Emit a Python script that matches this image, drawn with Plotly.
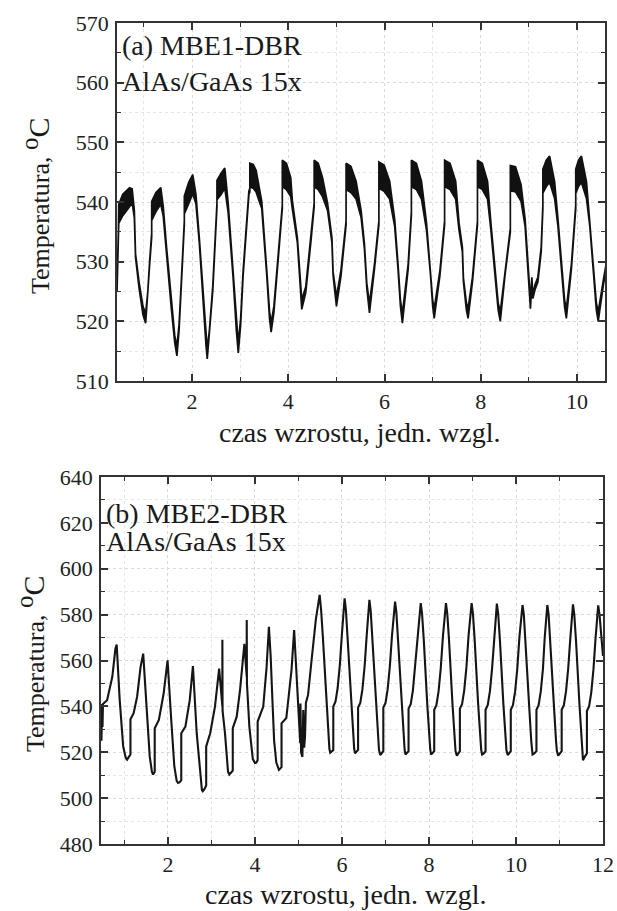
import plotly.graph_objects as go

# ---------------- panel (a) MBE1-DBR : centreline + noise half-amplitude ----------------
top_x = [0.44, 0.462, 0.47, 0.476, 0.56, 0.70, 0.755, 0.80, 0.825, 0.90, 0.98, 1.035, 1.08, 1.12, 1.161,
         1.161, 1.25, 1.35, 1.40, 1.47, 1.57, 1.64, 1.685, 1.73, 1.77, 1.839,
         1.839, 1.93, 2.014, 2.08, 2.15, 2.24, 2.29, 2.315, 2.36, 2.43, 2.517,
         2.517, 2.60, 2.68, 2.75, 2.85, 2.92, 2.96, 3.01, 3.06, 3.18, 3.20,
         3.20, 3.27, 3.33, 3.40, 3.448, 3.552, 3.61, 3.643, 3.70, 3.762, 3.875,
         3.875, 3.96, 4.05, 4.084, 4.188, 4.237, 4.279, 4.362, 4.467, 4.537,
         4.537, 4.62, 4.71, 4.815, 4.906, 4.93, 5.0, 5.094, 5.20,
         5.20, 5.30, 5.408, 5.512, 5.582, 5.63, 5.686, 5.79, 5.882,
         5.882, 5.99, 6.105, 6.21, 6.279, 6.33, 6.37, 6.49, 6.557,
         6.557, 6.66, 6.767, 6.871, 6.955, 7.0, 7.031, 7.15, 7.247,
         7.247, 7.36, 7.477, 7.547, 7.617, 7.638, 7.70, 7.735, 7.826, 7.93,
         7.93, 8.03, 8.139, 8.209, 8.30, 8.36, 8.404, 8.502, 8.613,
         8.613, 8.72, 8.836, 8.92, 8.99, 9.031, 9.06, 9.08, 9.129, 9.185, 9.254, 9.289,
         9.289, 9.36, 9.429, 9.533, 9.603, 9.686, 9.74, 9.777, 9.882, 9.972,
         9.972, 10.03, 10.09, 10.195, 10.265, 10.334, 10.40, 10.439, 10.544, 10.613]
top_y = [525.5, 531, 535, 538, 539.5, 540.8, 541, 538, 531, 526, 521.8, 520.5, 524.5, 530, 534.5,
         538.5, 540, 541, 538.5, 532, 522.5, 517, 515, 519, 525.3, 536.5,
         539.5, 541.5, 543, 540.5, 533.6, 522.5, 516.5, 514.5, 518, 525.5, 539.5,
         542, 543, 544, 539, 528, 519, 515.5, 520, 528, 541.5, 542,
         544.5, 544.3, 543.5, 541, 539.5, 528.1, 521, 519, 522, 528.1, 539.2,
         544.8, 544.3, 542.5, 539.5, 533.6, 528, 522.8, 525.3, 533.6, 539.5,
         544.8, 544.3, 542.5, 539.2, 533.6, 528, 523.3, 528.1, 536.5,
         544.3, 543.8, 542, 538, 532.5, 526, 522.2, 529.2, 536.5,
         544.5, 544, 542, 536.5, 529.2, 523, 520.5, 529.2, 538.1,
         544.8, 544.3, 542, 535.9, 528.1, 523, 521.3, 528.1, 536.5,
         544.8, 544.3, 542, 535.9, 532, 527, 522.5, 521.3, 527, 536.5,
         544.8, 544.3, 542, 535.9, 528.1, 522.5, 520.8, 528.1, 535.3,
         544, 543.8, 541.5, 536.5, 528.1, 522.8, 527, 524.2, 525.8, 527, 532, 539.2,
         543.5, 544.8, 545.5, 542, 536.5, 528.1, 523, 521.3, 529.2, 539.2,
         543.5, 544.8, 545.5, 542, 536.5, 529.2, 522.5, 520.8, 526.4, 529.7]
top_noise = [0.6, 0.4, 0.3, 1.6, 1.8, 1.6, 1.2, 0.6, 0.3, 0.5, 0.7, 0.8, 0.5, 0.3, 0.3,
             1.6, 1.6, 1.4, 0.8, 0.4, 0.4, 0.6, 0.8, 0.5, 0.4, 0.3,
             1.5, 1.8, 1.6, 0.8, 0.4, 0.4, 0.6, 0.8, 0.5, 0.4, 0.3,
             1.6, 1.8, 1.7, 0.8, 0.4, 0.5, 0.8, 0.5, 0.4, 0.3, 0.3,
             2.0, 2.0, 1.8, 1.0, 0.6, 0.4, 0.6, 0.8, 0.5, 0.4, 0.3,
             2.2, 2.2, 1.6, 0.7, 0.4, 0.3, 0.8, 0.5, 0.4, 0.3,
             2.2, 2.2, 1.6, 0.6, 0.4, 0.3, 0.8, 0.5, 0.3,
             2.2, 2.2, 1.5, 0.6, 0.4, 0.4, 0.8, 0.4, 0.3,
             2.2, 2.2, 1.5, 0.6, 0.4, 0.5, 0.8, 0.4, 0.3,
             2.2, 2.2, 1.5, 0.6, 0.4, 0.5, 0.8, 0.4, 0.3,
             2.2, 2.2, 1.5, 0.6, 0.4, 0.3, 0.6, 0.8, 0.4, 0.3,
             2.2, 2.2, 1.5, 0.6, 0.4, 0.6, 0.8, 0.4, 0.3,
             2.1, 2.1, 1.4, 0.6, 0.4, 0.7, 0.4, 0.4, 0.4, 0.4, 0.4, 0.3,
             2.0, 2.2, 2.2, 1.4, 0.6, 0.4, 0.6, 0.8, 0.4, 0.3,
             2.0, 2.2, 2.2, 1.4, 0.6, 0.4, 0.6, 0.8, 0.4, 0.4]

# ---------------- panel (b) MBE2-DBR ----------------
bot_x = [0.47, 0.485, 0.495, 0.505, 0.60, 0.72, 0.79, 0.82, 0.89, 0.97, 1.03, 1.06, 1.10, 1.137,
         1.137, 1.21, 1.29, 1.37, 1.43, 1.50, 1.58, 1.63, 1.656, 1.68, 1.695,
         1.695, 1.79, 1.90, 1.99, 2.07, 2.145, 2.20, 2.23, 2.27, 2.305,
         2.305, 2.40, 2.50, 2.573, 2.66, 2.74, 2.78, 2.80, 2.84, 2.878,
         2.878, 2.97, 3.08, 3.176, 3.22, 3.25, 3.25, 3.255, 3.31, 3.38, 3.41, 3.45, 3.489,
         3.489, 3.58, 3.656, 3.756, 3.79, 3.81, 3.81, 3.815, 3.87, 3.95, 4.0, 4.03, 4.061,
         4.061, 4.19, 4.267, 4.32, 4.36, 4.40, 4.44, 4.49, 4.55, 4.61,
         4.61, 4.72, 4.84, 4.90, 4.99, 5.04, 5.045, 5.06, 5.09, 5.11, 5.13, 5.15, 5.17, 5.22, 5.30, 5.40, 5.486,
         5.52, 5.56, 5.64, 5.69, 5.71, 5.73, 5.76, 5.80, 5.80, 5.85, 5.90, 5.95, 6.00, 6.03, 6.06,
         6.09, 6.13, 6.21, 6.26, 6.28, 6.30, 6.33, 6.37, 6.37, 6.42, 6.47, 6.52, 6.57, 6.60, 6.63,
         6.66, 6.70, 6.78, 6.83, 6.85, 6.88, 6.91, 6.95, 6.95, 7.00, 7.05, 7.10, 7.15, 7.19, 7.22,
         7.25, 7.29, 7.37, 7.42, 7.44, 7.46, 7.49, 7.53, 7.53, 7.58, 7.63, 7.68, 7.74, 7.78, 7.81,
         7.84, 7.88, 7.96, 8.01, 8.03, 8.05, 8.08, 8.12, 8.12, 8.17, 8.22, 8.27, 8.32, 8.36, 8.39,
         8.42, 8.46, 8.54, 8.59, 8.61, 8.64, 8.67, 8.71, 8.71, 8.76, 8.81, 8.86, 8.91, 8.95, 8.98,
         9.01, 9.05, 9.13, 9.18, 9.20, 9.22, 9.26, 9.30, 9.30, 9.35, 9.40, 9.45, 9.50, 9.53, 9.56,
         9.59, 9.63, 9.71, 9.76, 9.78, 9.81, 9.84, 9.88, 9.88, 9.93, 9.98, 10.03, 10.08, 10.12, 10.15,
         10.18, 10.22, 10.30, 10.35, 10.36, 10.38, 10.42, 10.47, 10.47, 10.52, 10.57, 10.62, 10.66, 10.69, 10.72,
         10.75, 10.79, 10.87, 10.92, 10.94, 10.97, 11.01, 11.05, 11.05, 11.10, 11.15, 11.20, 11.25, 11.28, 11.31,
         11.34, 11.38, 11.46, 11.51, 11.52, 11.54, 11.58, 11.63, 11.63, 11.68, 11.73, 11.78, 11.83, 11.86, 11.89,
         11.92, 11.96, 12.0]
bot_y = [525, 541, 531, 541, 542.7, 552.9, 565, 567, 542.7, 522.5, 517.5, 516.8, 518, 519,
         534.4, 537, 544.2, 557.2, 563, 542.7, 518.2, 511.5, 510.3, 511, 511.5,
         530.5, 534.1, 545.6, 560.1, 535.5, 513.9, 507.5, 506.6, 507, 507.8,
         528.3, 531.2, 542.7, 557.6, 528.3, 509.5, 503.5, 503, 504, 505.5,
         522.5, 528.3, 539.9, 556.5, 545, 540, 569, 538, 528.3, 511.5, 510.3, 511, 512,
         530.5, 535.5, 547.1, 567.3, 558, 552.9, 577.7, 550, 531.2, 517, 515.3, 515.5, 516.5,
         533.4, 539.9, 557.2, 574.7, 562, 543, 525, 515.5, 512.3, 513.5,
         532.6, 534.9, 555.9, 573.3, 542.8, 524, 541.3, 520, 518, 538.4, 522, 526.8, 541.5, 545, 560, 578, 588.6,
         582, 570.4, 541.5, 526, 521.5, 519.8, 520.2, 521, 539.9, 542, 548, 558, 572, 581, 587.1,
         582, 570, 541, 526, 521.5, 519.5, 520, 521, 539.5, 541.5, 547.5, 557.5, 571.5, 580.5, 586.4,
         581.5, 569.5, 541, 525.5, 521, 518.8, 519.5, 520.5, 539.5, 541.5, 547.5, 557.5, 571, 580, 585.7,
         581, 569, 541, 525.5, 521, 519, 519.5, 520.5, 539, 541, 547, 557, 571, 579.5, 585,
         580.5, 569, 541, 525.5, 521, 519, 519.5, 520.5, 538.5, 540.5, 546.5, 556.5, 570.5, 579.5, 585,
         580.5, 569, 541, 525, 520.5, 518.5, 519.5, 520.5, 539, 541, 547, 557, 571, 579.5, 585,
         580.5, 569, 541, 525, 521, 519, 519.5, 520.5, 538.5, 540.5, 546.5, 556.5, 570.5, 579, 584.8,
         580.5, 569, 541, 525, 521, 518.8, 519.5, 520.5, 538.5, 540.5, 546.5, 556.5, 570.5, 579, 584.2,
         580, 568.5, 541, 525, 521, 519, 519.5, 520.5, 538.5, 540.5, 546.5, 556.5, 570, 578.5, 584.2,
         580, 568.5, 541, 525, 520.5, 518.5, 519.5, 520.5, 538.5, 540.5, 546.5, 556.5, 570, 578.5, 584.5,
         580, 568.5, 540.5, 523.5, 519, 516.5, 518, 519.5, 538, 540, 546, 556, 570, 578.5, 584,
         580, 570, 562]

label_a = ["(a) MBE1-DBR", "AlAs/GaAs 15x"]
label_b = ["(b) MBE2-DBR", "AlAs/GaAs 15x"]
x_title = "czas wzrostu, jedn. wzgl."
y_title = ("Temperatura, <sup><span style='font-size:25px'>o</span></sup>"
           "<span style='font-size:30px'>C</span>")

W, H = 617, 911
FONT = "Liberation Serif, Times New Roman, serif"

# noisy band of panel (a): upper edge forward, lower edge backward
poly_x = top_x + top_x[::-1]
poly_y = [y + n for y, n in zip(top_y, top_noise)] + \
         [y - n for y, n in zip(top_y[::-1], top_noise[::-1])]

fig = go.Figure()
fig.add_trace(go.Scatter(x=poly_x, y=poly_y, mode="lines", fill="toself",
                         fillcolor="#111111", line=dict(color="#111111", width=1.7),
                         xaxis="x", yaxis="y", hoverinfo="skip", showlegend=False))
fig.add_trace(go.Scatter(x=bot_x, y=bot_y, mode="lines",
                         line=dict(color="#151515", width=2.1),
                         xaxis="x2", yaxis="y2", hoverinfo="skip", showlegend=False))


def axis(**kw):
    d = dict(showline=True, linecolor="#333333", linewidth=1.6, mirror="ticks",
             ticks="inside", ticklen=7, tickwidth=1.5, tickcolor="#333333",
             showgrid=True, gridcolor="#dadada", griddash="dot", gridwidth=1,
             zeroline=False, automargin=False,
             tickfont=dict(family=FONT, size=22, color="#222222"))
    d.update(kw)
    return d


minor_common = dict(ticks="inside", ticklen=4, tickwidth=1.2, tickcolor="#333333",
                    showgrid=True, gridcolor="#e6e6e6", griddash="dot")

fig.update_layout(
    width=W, height=H, margin=dict(l=0, r=0, t=0, b=0, pad=0, autoexpand=False),
    paper_bgcolor="white", plot_bgcolor="white", showlegend=False,
    xaxis=axis(domain=[117 / W, 605 / W], range=[0.44, 10.58], anchor="y",
               tick0=0, dtick=2, minor=dict(dtick=1, **minor_common)),
    yaxis=axis(domain=[1 - 381 / H, 1 - 23 / H], range=[510, 570], anchor="x",
               tick0=510, dtick=10, ticklabelstandoff=2, minor=dict(dtick=5, **minor_common)),
    xaxis2=axis(domain=[101 / W, 603 / W], range=[0.46, 12.0], anchor="y2",
                tick0=0, dtick=2, minor=dict(dtick=1, **minor_common)),
    yaxis2=axis(domain=[1 - 844 / H, 1 - 477 / H], range=[480, 640], anchor="x2",
                tick0=480, dtick=20, ticklabelstandoff=2, minor=dict(dtick=10, **minor_common)),
)

ann = []


def add_text(text, px, py, size, anchor="center", angle=0):
    ann.append(dict(text=text, x=px / W, y=1 - py / H, xref="paper", yref="paper",
                    xanchor=anchor, yanchor="middle", showarrow=False, textangle=angle,
                    font=dict(family=FONT, size=size, color="#1a1a1a")))


add_text(label_a[0], 120, 46, 28, "left")
add_text(label_a[1], 120, 81, 28, "left")
add_text(label_b[0], 104, 513, 28, "left")
add_text(label_b[1], 104, 541, 28, "left")
add_text(x_title, 360, 432, 28)
add_text(x_title, 345, 894, 28)
add_text(y_title, 35, 206, 26, angle=-90)
add_text(y_title, 30, 664, 26, angle=-90)
fig.update_layout(annotations=ann)

fig.write_html("out.html", config={"displayModeBar": False},
               post_script="document.body.style.margin='0px';document.body.style.overflow='hidden';")
